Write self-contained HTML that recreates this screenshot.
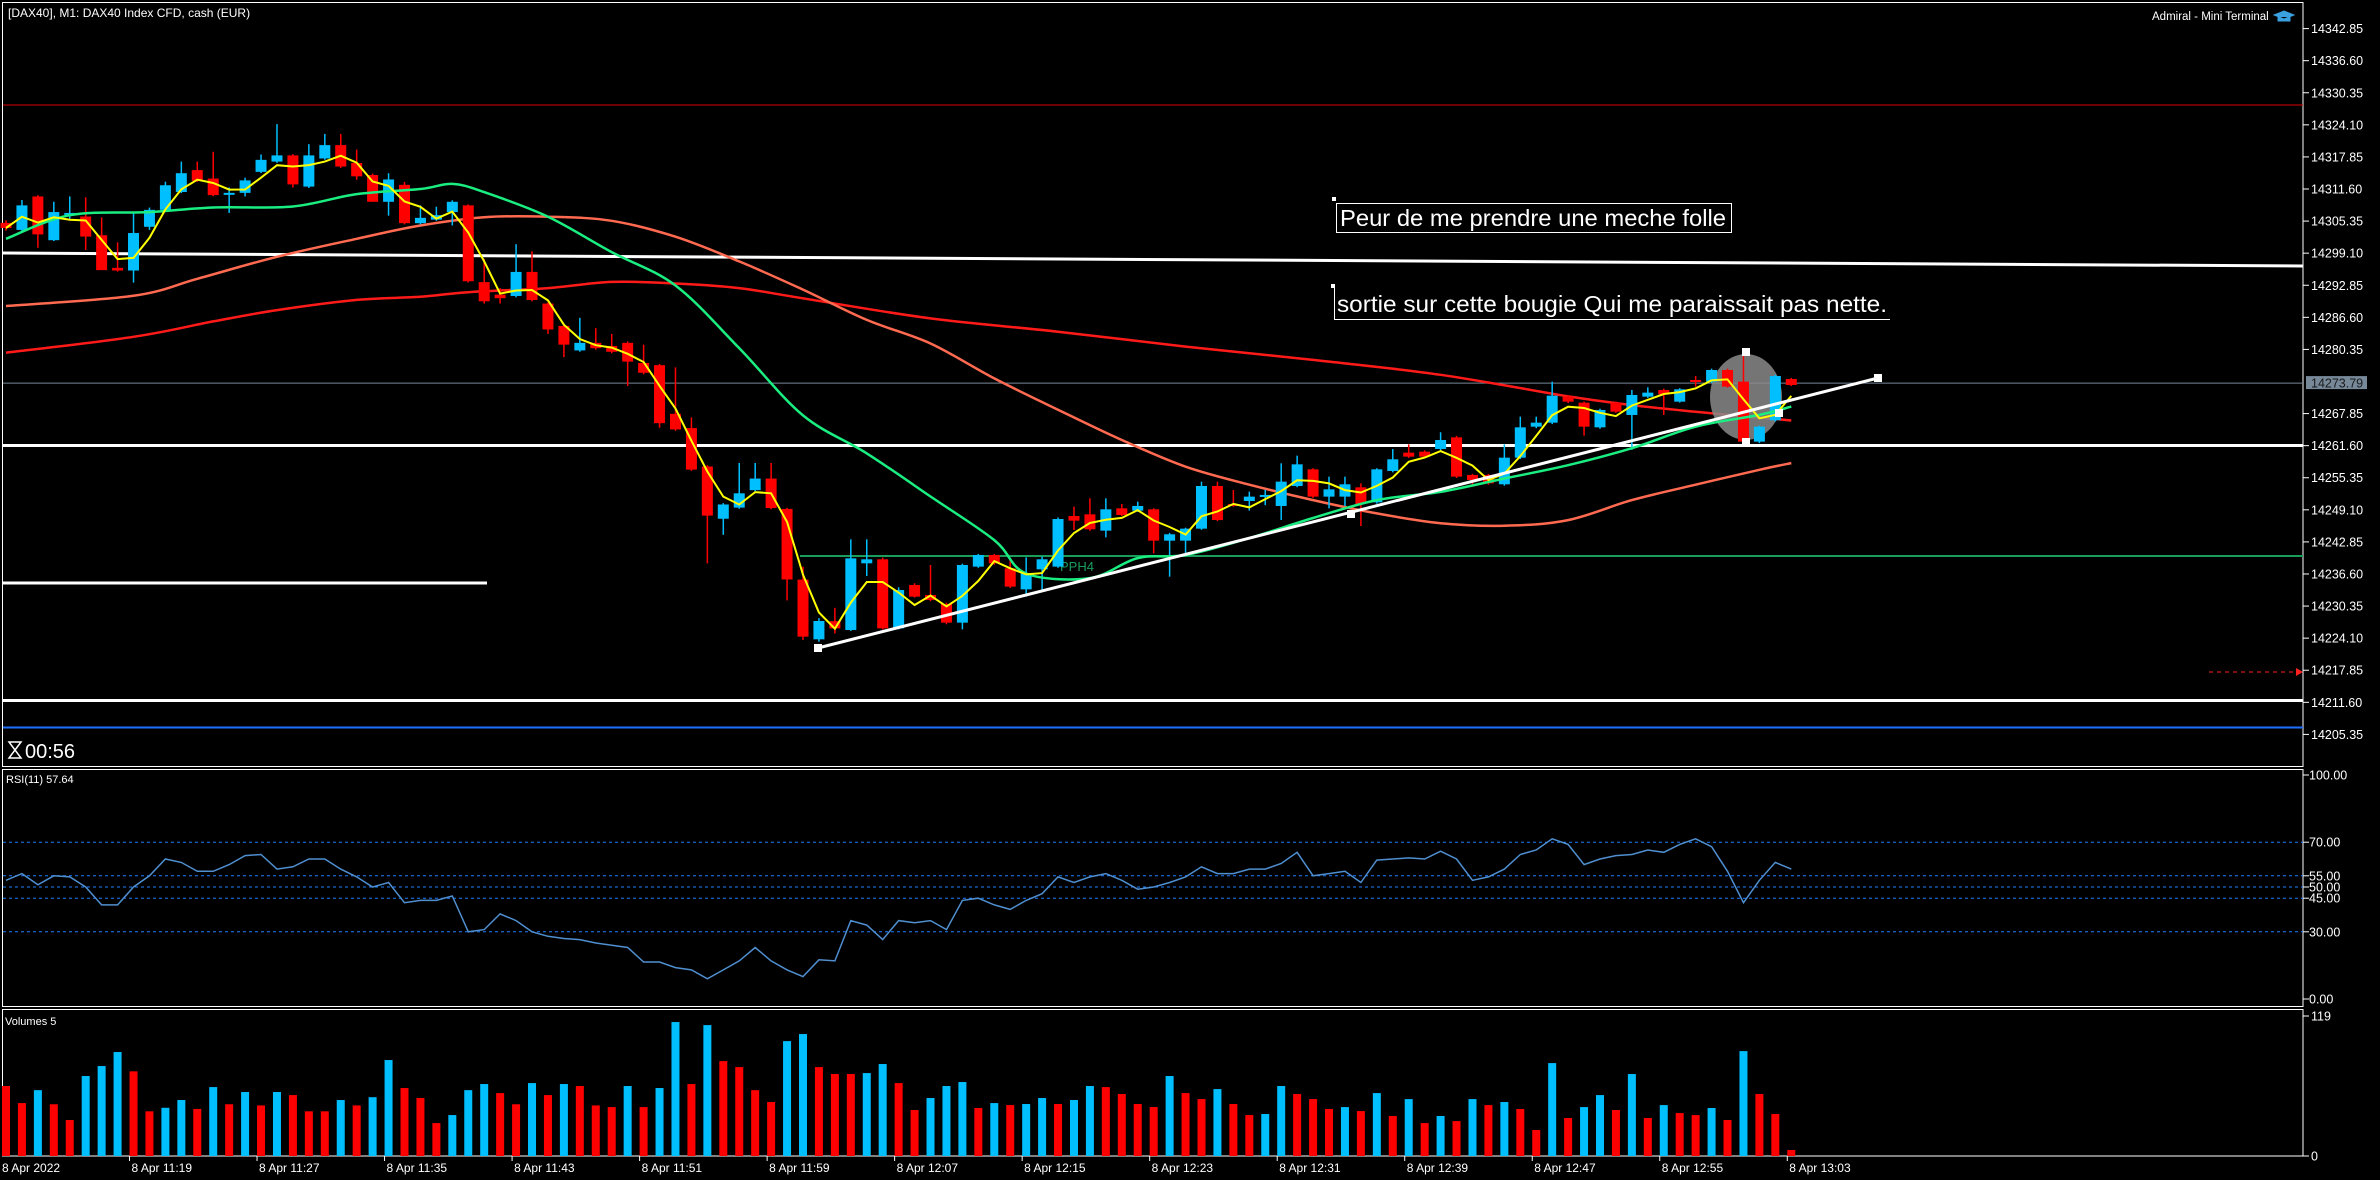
<!DOCTYPE html>
<html><head><meta charset="utf-8">
<style>
html,body{margin:0;padding:0;background:#000;}
svg{display:block;font-family:"Liberation Sans",sans-serif;}
</style></head>
<body>
<svg id="chart" width="2380" height="1180" viewBox="0 0 2380 1180" xmlns="http://www.w3.org/2000/svg">
<rect x="0" y="0" width="2380" height="1180" fill="#000"/>
</svg>
<script>
// ---- data ----
const opens = [14305,14303.63,14310.15,14301.63,14306.67,14306.24,14302.59,14296.24,14295.72,14304.24,14307.54,14311.02,14315.28,14313.63,14310.5,14310.85,14314.94,14316.94,14318.15,14312.07,14317.55,14320.15,14316.68,14314.33,14309.11,14312.41,14304.94,14305.63,14307.11,14308.41,14293.46,14291.02,14290.76,14295.45,14289.28,14284.93,14280.15,14281.63,14281.02,14281.63,14277.72,14277.28,14267.8,14265.02,14257.54,14247.36,14249.53,14252.93,14255.19,14249.27,
14235.5,14223.87,14227.4,14225.69,14238.68,14239.46,14226.01,14234.46,14232.51,14230.76,14227.12,14238.03,14240.30,14237.70,14233.61,14237.51,14238.03,14247.90,14248.22,14245.04,14249.39,14248.94,14249.20,14243.09,14243.09,14245.43,14253.74,14250.24,14250.82,14251.67,14249.85,14253.74,14256.99,14251.67,14251.67,14253.48,14250.56,14256.67,14260.24,14260.43,14260.95,14263.22,14255.89,14255.89,14254.07,14259.26,14265.30,14266.08,14271.15,14269.98,14265.17,14269.98,14267.58,14271.15,14272.45,14270.17,14274.39,14274.07,14276.34,14274.07,14262.38,14266.55,14274.59];
const highs = [14305.5,14309.46,14310.41,14309.11,14310.15,14309.98,14306.07,14301.2,14306.85,14307.98,14313.02,14316.94,14316.94,14318.85,14311.89,14313.8,14318.33,14324.24,14318.4,14320.33,14322.33,14322.33,14319.28,14314.6,14314.68,14313.0,14308.41,14308.15,14309.4,14308.6,14297.98,14292.3,14300.85,14299.46,14289.5,14285.2,14286.5,14284.5,14283.37,14281.9,14281.28,14277.5,14276.85,14267.1,14257.8,14250.4,14258.23,14258.23,14258.23,14249.5,
14238,14228,14230,14243.35,14243.35,14239.8,14234,14234.8,14238.35,14231,14238.6,14240.5,14240.5,14239.33,14239.85,14239.98,14247.6,14249.72,14251.34,14251.34,14250.24,14250.69,14249.4,14244.6,14245.6,14254.59,14254.59,14252.96,14252.64,14253,14258.16,14259.65,14257.2,14255.56,14255.56,14254.26,14257.2,14260.95,14261.86,14260.7,14264.20,14263.5,14256.1,14256.1,14261.86,14267.25,14267.25,14274.07,14271.4,14270.2,14268.8,14270.2,14272.45,14272.97,14272.7,14272.8,14275.17,14276.6,14276.6,14279.91,14265.5,14275.4,14274.8];
const lows = [14303.5,14303.2,14300.15,14301.46,14305.8,14299.72,14295.8,14295.5,14293.37,14303.63,14307.3,14310.8,14313.0,14310.2,14306.94,14310.15,14314.7,14316.7,14311.89,14311.8,14317.3,14315.7,14313.4,14309.11,14306.41,14304.7,14304.7,14305.4,14304.5,14293.4,14289.28,14289.28,14290.5,14289.7,14283.37,14278.85,14279.9,14280.3,14279.6,14273.2,14275.5,14265.1,14264.5,14256.7,14238.66,14244.23,14249.3,14252.7,14249.2,14231.45,
14223.74,14223.41,14225,14225.5,14236.21,14225.8,14225.8,14232,14231.3,14226.8,14225.82,14237.8,14238.4,14233.9,14232.18,14233.48,14237.8,14245.17,14245.0,14243.74,14247.9,14248.7,14240.63,14236.08,14240.63,14245.2,14246.9,14249.7,14248.94,14250,14247.12,14253.5,14251.4,14249.39,14249.85,14245.95,14250.3,14256.4,14259.2,14259.2,14260.7,14255.3,14253.61,14254.0,14253.8,14259.0,14265.0,14265.8,14269.9,14263.55,14264.9,14268.0,14260.76,14270.9,14267.58,14270.0,14273.10,14273.8,14272.9,14262.06,14262.1,14266.3,14273.2];
const closes = [14304,14308.41,14302.76,14307.11,14306.94,14302.33,14295.8,14295.72,14303.02,14307.54,14312.33,14314.68,14313.2,14310.41,14310.85,14313.28,14317.28,14318.15,14312.5,14318.15,14320.15,14315.98,14314.07,14309.11,14313.46,14304.94,14305.98,14306.5,14309.11,14293.63,14289.72,14290.33,14295.45,14289.98,14284.24,14281.28,14281.63,14280.59,14279.89,14277.98,14275.8,14265.98,14264.76,14256.93,14247.97,14250.14,14252.32,14255.19,14249.45,14235.53,
14224.39,14227.44,14226.0,14239.65,14239.46,14226.01,14233.48,14232.18,14231.54,14227.12,14238.35,14240.30,14238.68,14234.13,14236.73,14239.46,14247.31,14246.99,14245.30,14249.20,14248.09,14249.85,14243.09,14244.33,14245.43,14253.74,14247.12,14249.91,14251.67,14252.0,14254.59,14257.96,14251.67,14253.09,14254.07,14250.24,14256.99,14258.94,14259.46,14259.46,14262.70,14255.56,14254.91,14254.26,14259.26,14265.17,14266.08,14271.34,14270.17,14265.30,14268.55,14268.22,14271.47,14271.93,14271.60,14272.58,14274.07,14276.34,14273.10,14262.38,14265.30,14275.17,14273.42];
const volumes = [59.5,45,56,44,30.6,68,76.5,88.4,72,38,41,47.6,40,58.6,44,54.4,43,54.4,51.8,38,38,47.6,43,50,81.6,57.8,49.3,28,34.8,56,61.2,53.5,44,62,51.8,61.2,59.5,43,41.6,59.5,41.6,57.8,113.9,61.2,111.3,80.7,75.6,56,45.9,97.7,103.7,75.6,69.7,69.7,70.5,78.2,62,
39.1,49.3,59.5,62.9,40.8,45,43.3,44.2,49.3,44.2,47.6,59.5,58.6,52.7,44.2,41.6,68,53.5,48.4,56.9,44.2,34.8,35.7,59.5,52.7,48.4,40,41.6,38.2,53.5,34,48.4,28,34,29.7,48.4,43.3,45.9,40,22.1,79,32.3,41.6,51.8,39.1,69.7,32.3,43.3,36.5,34.8,40.8,30.6,89.2,52.7,35.7,5.1];
const rsiValues = [53,56,51,55,54.5,50,42,42,50,55,62.5,61,57,57,60,64,64.5,58,59,62.5,62.5,58,54.5,50,52,43,44,44,46,30,31,38,35,30,28,27,26.5,25,24,23,16.5,16.5,14,13,9,13,17,23,17,13,10,17.5,17,35,33,26.5,35,34,35,31,44,45,42,40,44,47,54.5,52,54.5,56,53,49,50,52,54.5,59,56,56,58,58,60.5,65.5,55,56,57,52,62,62.5,63,62.5,66,62.5,53,54.5,58,64.5,66.5,71.5,69,60,62.5,64,64.5,66.5,65.5,69,71.5,68,57,43,53,61,58];
const maGreenIdx = [0,4,9,13,18,22,26,28,30,34,38,42,46,50,54,58,62,64,68,71,74,78,82,86,90,94,98,102,106,110,112];
const maGreenVal = [14301.9,14306.5,14307.1,14308.0,14308.2,14310.6,14311.6,14312.6,14311.0,14306.2,14299.3,14292.8,14280.6,14267.5,14260.1,14251.7,14243.2,14236.7,14235.8,14239.7,14240.3,14243.6,14247.5,14251.0,14252.6,14255.2,14257.8,14261.1,14265.3,14267.6,14269.2];
const maSalmonIdx = [0,8,12,17,22,26,30,34,38,42,46,50,54,58,62,66,70,74,78,82,86,90,94,98,102,106,110,112];
const maSalmonVal = [14288.8,14290.8,14294.1,14298.4,14301.9,14304.5,14306.1,14306.2,14305.4,14302.3,14297.5,14292.0,14286.1,14281.5,14274.7,14268.6,14262.7,14257.5,14254.0,14251.0,14248.4,14246.5,14246.0,14247.1,14251.0,14254.0,14256.9,14258.2];
const maRedIdx = [0,8,13,17,22,26,29,34,38,42,46,50,58,66,74,82,90,98,102,106,112];
const maRedVal = [14279.7,14282.8,14285.8,14288.0,14290.0,14290.6,14291.5,14292.3,14293.5,14293.2,14292.3,14290.3,14286.4,14283.8,14280.9,14278.3,14275.4,14271.2,14269.5,14268.2,14266.5];
const priceTicks = [14342.85,14336.60,14330.35,14324.10,14317.85,14311.60,14305.35,14299.10,14292.85,14286.60,14280.35,14273.79,14267.85,14261.60,14255.35,14249.10,14242.85,14236.60,14230.35,14224.10,14217.85,14211.60,14205.35];
const rsiLevels = [70,55,50,45,30];
const timeLabelIdx = [8,16,24,32,40,48,56,64,72,80,88,96,104,112];
const timeLabels = ["8 Apr 11:19","8 Apr 11:27","8 Apr 11:35","8 Apr 11:43","8 Apr 11:51","8 Apr 11:59","8 Apr 12:07","8 Apr 12:15","8 Apr 12:23","8 Apr 12:31","8 Apr 12:39","8 Apr 12:47","8 Apr 12:55","8 Apr 13:03"];
const currentPrice = 14273.79;
const rsiCurrent = "57.64";

// ---- scales ----
const NS = "http://www.w3.org/2000/svg";
const svg = document.getElementById("chart");
const PLOT_R = 2303;
function xOf(i){ return 6 + 15.94 * i; }
function yPrice(p){ return 28.6 + (14342.85 - p) * 5.133; }
function yRsi(v){ return 775 + (100 - v) * 2.24; }
function yVol(v){ return 1156 - v * 1.176; }
function el(tag, attrs, parent){
  const e = document.createElementNS(NS, tag);
  for (const k in attrs) e.setAttribute(k, attrs[k]);
  (parent || svg).appendChild(e);
  return e;
}
const BLUE = "#00bfff", RED = "#ff0000";

// ---- panels ----
const frameMain = el("rect",{x:2.5,y:2.5,width:PLOT_R-2.5,height:764,fill:"none",stroke:"#fff","stroke-width":1});


const frameRsi = el("rect",{x:2.5,y:769.5,width:PLOT_R-2.5,height:237,fill:"none",stroke:"#fff","stroke-width":1});


const frameVol = el("rect",{x:2.5,y:1009.5,width:PLOT_R-2.5,height:146.5,fill:"none",stroke:"#fff","stroke-width":1});



// ---- horizontal levels ----
function hline(y, color, w, x1, x2, name, dash){
  const l = el("line",{x1:x1,y1:y,x2:x2,y2:y,stroke:color,"stroke-width":w});
  if (dash) l.setAttribute("stroke-dasharray", dash);
  
  
  return l;
}
hline(105, "#e00000", 1, 3, PLOT_R, "resistance-line-red");
hline(yPrice(currentPrice), "#778899", 1, 3, PLOT_R, "current-price-line");
hline(445.5, "#fff", 3, 3, PLOT_R, "support-line-white");
hline(556, "#1a9c5a", 2, 800, PLOT_R, "pph4-level-line");
hline(700.5, "#fff", 3, 3, PLOT_R, "support-line-low");
hline(727.5, "#1e6fff", 2, 3, PLOT_R, "blue-level-line");
hline(583, "#fff", 3, 3, 487, "left-level-line");
hline(672, "#ff2020", 1, 2209, 2296, "alert-line", "4,4");
const arrow = el("polygon",{points:"2296,668 2303,672 2296,676",fill:"#ff2020"});


const slopeLine = el("line",{x1:3,y1:253,x2:PLOT_R,y2:266,stroke:"#fff","stroke-width":3});


const pph = el("text",{x:1060,y:571,fill:"#1a9c5a","font-size":13});
pph.textContent = "PPH4";



// ---- MA lines (smooth Catmull-Rom through read points) ----
function maPath(idx, vals, color, w, name){
  const pts = idx.map(function(ix,k){ return [xOf(ix), yPrice(vals[k])]; });
  let d = "M" + pts[0][0].toFixed(1) + "," + pts[0][1].toFixed(1);
  for (let k=0;k<pts.length-1;k++){
    const p0 = pts[Math.max(0,k-1)], p1 = pts[k], p2 = pts[k+1], p3 = pts[Math.min(pts.length-1,k+2)];
    const c1x = p1[0] + (p2[0]-p0[0])/6, c1y = p1[1] + (p2[1]-p0[1])/6;
    const c2x = p2[0] - (p3[0]-p1[0])/6, c2y = p2[1] - (p3[1]-p1[1])/6;
    d += "C" + c1x.toFixed(1) + "," + c1y.toFixed(1) + " " + c2x.toFixed(1) + "," + c2y.toFixed(1) + " " + p2[0].toFixed(1) + "," + p2[1].toFixed(1);
  }
  const p = el("path",{d:d,fill:"none",stroke:color,"stroke-width":w});
  
  
}
maPath(maRedIdx, maRedVal, "#ff1a1a", 2.5, "ma-slow-red");
maPath(maSalmonIdx, maSalmonVal, "#ff6a50", 2.5, "ma-medium-salmon");

// ---- ellipse highlight ----
const ell = el("ellipse",{cx:1746,cy:397,rx:36,ry:43,fill:"#8a8a8a","fill-opacity":0.85});



// ---- candles ----
for (let i=0;i<closes.length;i++){
  const up = closes[i] >= opens[i];
  const c = up ? BLUE : RED;
  const x = xOf(i);
  const w = el("line",{x1:x,y1:yPrice(highs[i]),x2:x,y2:yPrice(lows[i]),stroke:c,"stroke-width":1.5});
  
  
  const top = yPrice(Math.max(opens[i],closes[i]));
  const bot = yPrice(Math.min(opens[i],closes[i]));
  const b = el("rect",{x:x-5.5,y:top,width:11,height:Math.max(2,bot-top),fill:c});
  
  
}
maPath(maGreenIdx, maGreenVal, "#1aee80", 2.5, "ma-fast-green");
{
  let d = "";
  for (let i=0;i<closes.length;i++){
    const s = Math.max(0,i-2); let sum=0;
    for (let j=s;j<=i;j++) sum+=closes[j];
    const v = sum/(i-s+1);
    d += (i?"L":"M") + xOf(i).toFixed(1) + "," + yPrice(v).toFixed(1);
  }
  const p = el("path",{d:d,fill:"none",stroke:"#ffff00","stroke-width":2});
  
  
}

// ---- trend line ----
const tl = el("line",{x1:818,y1:648,x2:1878,y2:378,stroke:"#fff","stroke-width":3});


[[818,648],[1878,378],[1351,514],[1746,352],[1746,442],[1779,413]].forEach(function(p){
  const m = el("rect",{x:p[0]-4,y:p[1]-4,width:8,height:8,fill:"#fff"});
  
  
});

// ---- text notes ----
const box1 = el("rect",{x:1336.5,y:203.5,width:395,height:29,fill:"none",stroke:"#fff","stroke-width":1});


const t1 = el("text",{x:1340,y:226,fill:"#fff","font-size":23,textLength:386,lengthAdjust:"spacingAndGlyphs"});
t1.textContent = "Peur de me prendre une meche folle";


const box2 = el("path",{d:"M1334.5,288 L1334.5,319.5 L1890,319.5",fill:"none",stroke:"#fff","stroke-width":1});


const t2 = el("text",{x:1337,y:312,fill:"#fff","font-size":23,textLength:550,lengthAdjust:"spacingAndGlyphs"});
t2.textContent = "sortie sur cette bougie Qui me paraissait pas nette.";


[[1334,199],[1333,286]].forEach(function(p){
  const d = el("rect",{x:p[0]-2,y:p[1]-2,width:4,height:4,fill:"#fff"});
  
  
});

// ---- price axis ----
priceTicks.forEach(function(p){
  if (p === currentPrice) return;
  const y = yPrice(p);
  const tk = el("line",{x1:PLOT_R,y1:y,x2:PLOT_R+6,y2:y,stroke:"#fff","stroke-width":1});
  
  
  const t = el("text",{x:PLOT_R+8,y:y+4.5,fill:"#fff","font-size":12.5});
  t.textContent = p.toFixed(2);
  
  
});
{
  const y = yPrice(currentPrice);
  const bg = el("rect",{x:PLOT_R+3,y:y-7,width:61,height:13,fill:"#778899"});
  
  
  const t = el("text",{x:PLOT_R+8,y:y+4.5,fill:"#1a1a1a","font-size":12.5});
  t.textContent = currentPrice.toFixed(2);
  
  
}

// ---- header texts ----
const title = el("text",{x:8,y:17,fill:"#fff","font-size":12});
title.textContent = "[DAX40], M1:  DAX40 Index CFD, cash (EUR)";


const term = el("text",{x:2152,y:20,fill:"#fff","font-size":11.5});
term.textContent = "Admiral - Mini Terminal";


const cap = el("path",{d:"M2284,11 L2294,15 L2284,19 L2274,15 Z M2278,17 L2278,21 L2290,21 L2290,17",fill:"#3aa0e0",stroke:"#3aa0e0","stroke-width":1});



// ---- timer ----
const hg = el("path",{d:"M9,742 L21,742 L15,750 L21,758 L9,758 L15,750 Z",fill:"none",stroke:"#fff","stroke-width":1.5});


const timer = el("text",{x:25,y:758,fill:"#fff","font-size":20});
timer.textContent = "00:56";



// ---- RSI ----
rsiLevels.forEach(function(v){
  const l = el("line",{x1:3,y1:yRsi(v),x2:PLOT_R,y2:yRsi(v),stroke:"#1e7fff","stroke-width":1,"stroke-dasharray":"3,3"});
  
  
});
[100,70,55,50,45,30,0].forEach(function(v){
  const y = yRsi(v);
  const tk = el("line",{x1:PLOT_R,y1:y,x2:PLOT_R+6,y2:y,stroke:"#fff","stroke-width":1});
  
  
  const t = el("text",{x:PLOT_R+6,y:y+4.5,fill:"#fff","font-size":12.5});
  t.textContent = v.toFixed(2);
  
  
});
{
  let d = "";
  for (let i=0;i<rsiValues.length;i++) d += (i?"L":"M") + xOf(i).toFixed(1) + "," + yRsi(rsiValues[i]).toFixed(1);
  const p = el("path",{d:d,fill:"none",stroke:"#4f8fd0","stroke-width":1.5});
  
  
  const t = el("text",{x:6,y:783,fill:"#fff","font-size":11});
  t.textContent = "RSI(11) " + rsiCurrent;
  
  
}

// ---- volumes ----
for (let i=0;i<volumes.length;i++){
  const up = i>0 && volumes[i] > volumes[i-1];
  const x = xOf(i);
  const r = el("rect",{x:x-4,y:yVol(volumes[i]),width:8,height:volumes[i]*1.176,fill: up?BLUE:RED});
  
  
}
{
  const t = el("text",{x:5,y:1025,fill:"#fff","font-size":11});
  t.textContent = "Volumes 5";
  
  
  [[119,1016],[0,1156]].forEach(function(a){
    const tk = el("line",{x1:PLOT_R,y1:a[1],x2:PLOT_R+6,y2:a[1],stroke:"#fff","stroke-width":1});
    
    
    const tt = el("text",{x:PLOT_R+8,y:a[1]+4.5,fill:"#fff","font-size":12.5});
    tt.textContent = String(a[0]);
    
    
  });
}

// ---- time axis ----
{
  const t0 = el("text",{x:2,y:1172,fill:"#fff","font-size":12});
  t0.textContent = "8 Apr 2022";
  
  
  for (let k=0;k<timeLabelIdx.length;k++){
    const x = xOf(timeLabelIdx[k]) - 4;
    const tk = el("line",{x1:x,y1:1156,x2:x,y2:1161,stroke:"#fff","stroke-width":1});
    
    
    const t = el("text",{x:x+2,y:1172,fill:"#fff","font-size":12});
    t.textContent = timeLabels[k];
    
    
  }
}
</script>
</body></html>
